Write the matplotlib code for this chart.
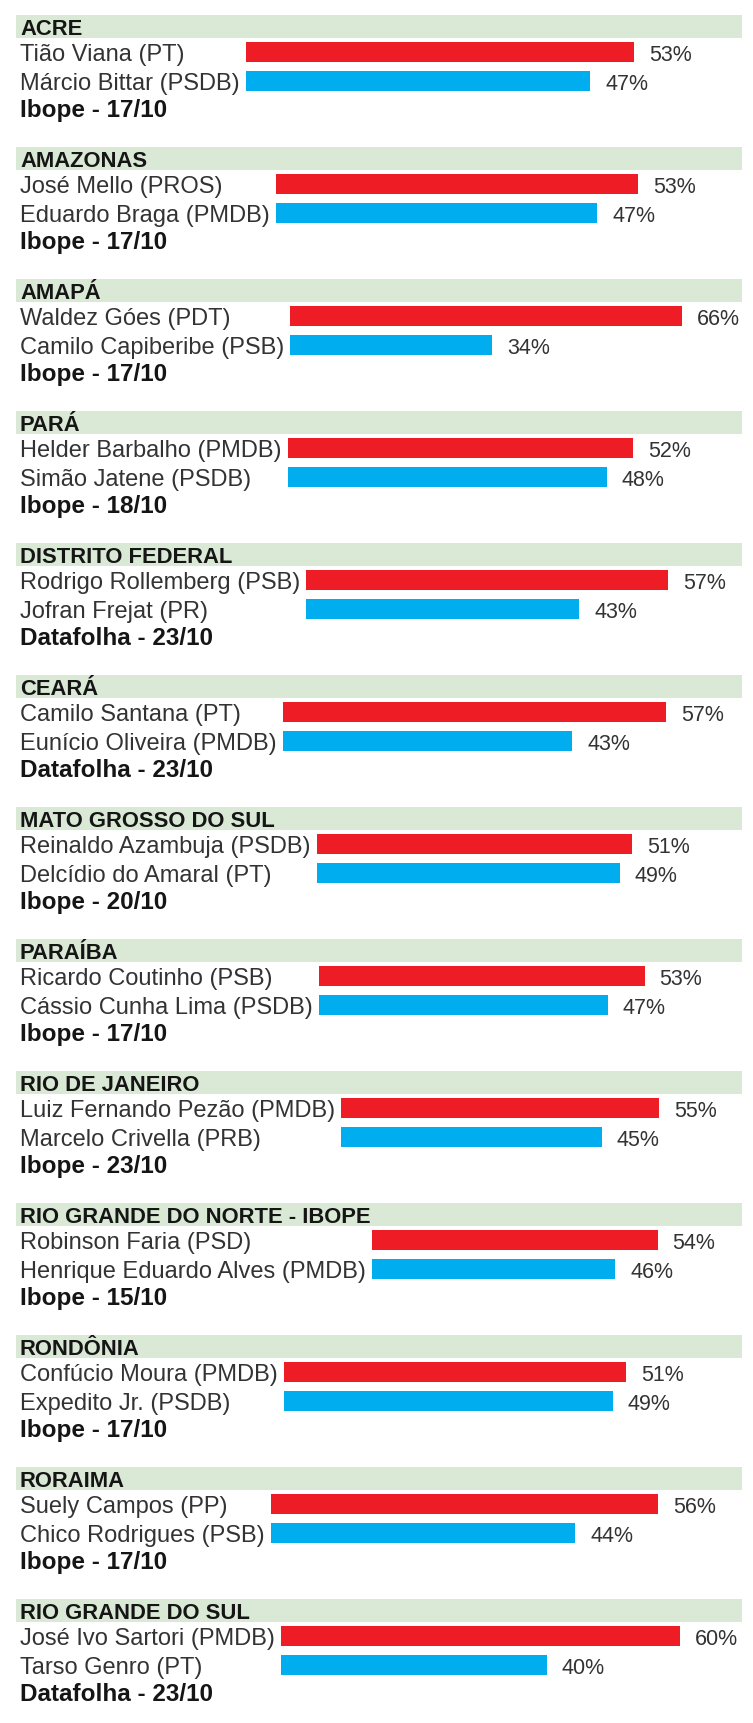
import matplotlib.pyplot as plt
from matplotlib.patches import Rectangle

plt.rcParams['font.family'] = ['Liberation Sans', 'DejaVu Sans']

# Data
states = ['ACRE', 'AMAZONAS', 'AMAPÁ', 'PARÁ', 'DISTRITO FEDERAL', 'CEARÁ',
          'MATO GROSSO DO SUL', 'PARAÍBA', 'RIO DE JANEIRO',
          'RIO GRANDE DO NORTE - IBOPE', 'RONDÔNIA', 'RORAIMA', 'RIO GRANDE DO SUL']
cand1 = ['Tião Viana (PT)', 'José Mello (PROS)', 'Waldez Góes (PDT)',
         'Helder Barbalho (PMDB)', 'Rodrigo Rollemberg (PSB)', 'Camilo Santana (PT)',
         'Reinaldo Azambuja (PSDB)', 'Ricardo Coutinho (PSB)',
         'Luiz Fernando Pezão (PMDB)', 'Robinson Faria (PSD)',
         'Confúcio Moura (PMDB)', 'Suely Campos (PP)', 'José Ivo Sartori (PMDB)']
cand2 = ['Márcio Bittar (PSDB)', 'Eduardo Braga (PMDB)', 'Camilo Capiberibe (PSB)',
         'Simão Jatene (PSDB)', 'Jofran Frejat (PR)', 'Eunício Oliveira (PMDB)',
         'Delcídio do Amaral (PT)', 'Cássio Cunha Lima (PSDB)',
         'Marcelo Crivella (PRB)', 'Henrique Eduardo Alves (PMDB)',
         'Expedito Jr. (PSDB)', 'Chico Rodrigues (PSB)', 'Tarso Genro (PT)']
pct1 = [53, 53, 66, 52, 57, 57, 51, 53, 55, 54, 51, 56, 60]
pct2 = [47, 47, 34, 48, 43, 43, 49, 47, 45, 46, 49, 44, 40]
sources = ['Ibope - 17/10', 'Ibope - 17/10', 'Ibope - 17/10', 'Ibope - 18/10',
           'Datafolha - 23/10', 'Datafolha - 23/10', 'Ibope - 20/10',
           'Ibope - 17/10', 'Ibope - 23/10', 'Ibope - 15/10', 'Ibope - 17/10',
           'Ibope - 17/10', 'Datafolha - 23/10']

RED = '#ee1c25'
BLUE = '#00aeef'
GREEN = '#d9e9d5'
TXT = '#333333'
DARK = '#151515'

W, H = 753, 1724
fig = plt.figure(figsize=(W / 100, H / 100), dpi=100)
bg = fig.add_axes([0, 0, 1, 1])
bg.set_xlim(0, W)
bg.set_ylim(H, 0)
bg.axis('off')
renderer = fig.canvas.get_renderer()

pitch = 132
row_gap = 28.7
bar_h = 20

for i, state in enumerate(states):
    t = 15.7 + pitch * i
    c1 = t + 37.6
    c2 = c1 + row_gap

    # header band
    bg.add_patch(Rectangle((16, t), 726, 23.6, color=GREEN, lw=0))
    bg.text(20, t + 19.5, state, fontsize=15.8, fontweight='bold', color=DARK,
            va='baseline')

    # candidate labels
    l1 = bg.text(20, c1 + 8.2, cand1[i], fontsize=17, color=TXT, va='baseline')
    l2 = bg.text(20, c2 + 7.8, cand2[i], fontsize=17, color=TXT, va='baseline')
    bg.text(20, t + 101, sources[i], fontsize=17.5, fontweight='bold',
            color=DARK, va='baseline')

    right = max(l1.get_window_extent(renderer).x1,
                l2.get_window_extent(renderer).x1)
    start = right + 6

    # bar axes
    ax = fig.add_axes([start / W, 1 - (c2 + row_gap / 2) / H,
                       (700 - start) / W, 2 * row_gap / H])
    vals = [pct1[i], pct2[i]]
    ax.barh([0, 1], vals, height=bar_h / row_gap, color=[RED, BLUE])
    ax.set_ylim(1.5, -0.5)
    ax.set_xlim(0, max(62, max(vals) + 3))
    ax.axis('off')
    for row, v in enumerate(vals):
        ax.annotate(f'{v}%', (v, row), xytext=(15, -8), textcoords='offset pixels',
                    ha='left', va='baseline', fontsize=15.5, color=TXT,
                    annotation_clip=False)

fig.savefig('out.png', dpi=100)
